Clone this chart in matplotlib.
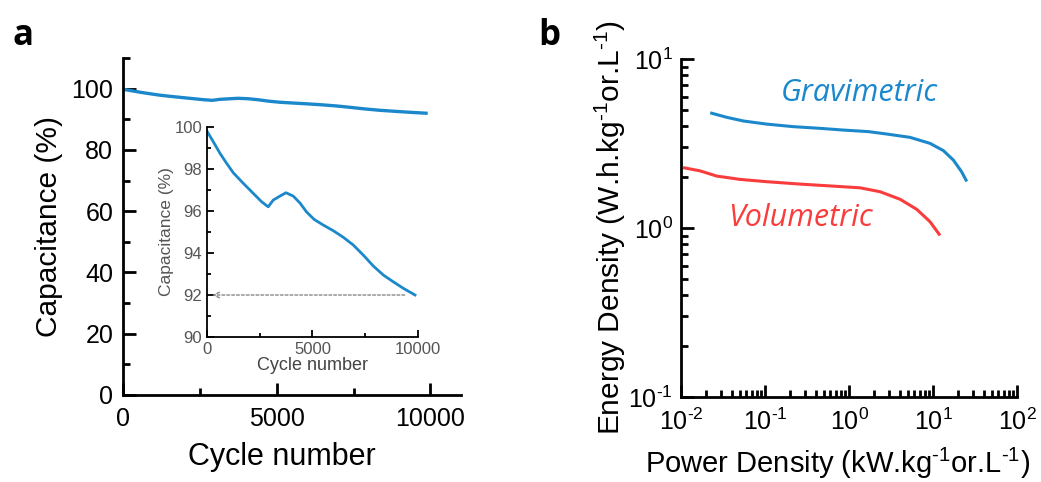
import matplotlib
matplotlib.use("Agg")
import matplotlib.pyplot as plt
from matplotlib.ticker import MultipleLocator, LogLocator, NullFormatter, FixedLocator

plt.rcParams['font.family'] = ['Liberation Sans', 'DejaVu Sans']
plt.rcParams['mathtext.fontset'] = 'custom'
plt.rcParams['mathtext.rm'] = 'Liberation Sans'
plt.rcParams['mathtext.it'] = 'Liberation Sans:italic'
plt.rcParams['mathtext.bf'] = 'Liberation Sans:bold'
plt.rcParams['mathtext.default'] = 'regular'

# ---- data: panel a (capacitance retention) ----
cycles = [15, 300, 616, 933, 1248, 1720, 2195, 2590, 2905, 3140, 3460, 3745, 4090,
          4410, 4725, 5080, 5515, 5990, 6460, 6935, 7410, 7885, 8360, 8830, 9305, 9860]
capacitance = [99.78, 99.3, 98.75, 98.27, 97.82, 97.32, 96.84, 96.44, 96.2, 96.52,
               96.71, 96.87, 96.71, 96.38, 95.95, 95.6, 95.33, 95.06, 94.75, 94.38,
               93.9, 93.38, 92.95, 92.63, 92.32, 92.0]

# ---- data: panel b (Ragone) ----
grav_power = [0.0232, 0.035, 0.0552, 0.105, 0.217, 0.452, 0.855, 1.70, 2.81, 5.32,
              9.2, 13.3, 17.5, 21.9, 24.7]
grav_energy = [4.78, 4.52, 4.30, 4.12, 3.98, 3.89, 3.80, 3.72, 3.60, 3.44,
               3.17, 2.87, 2.52, 2.15, 1.92]
vol_power = [0.011, 0.0168, 0.0266, 0.0504, 0.105, 0.261, 0.65, 1.35, 2.34, 4.05,
             6.4, 9.2, 11.8]
vol_energy = [2.27, 2.18, 2.03, 1.94, 1.88, 1.82, 1.77, 1.73, 1.64, 1.48,
              1.29, 1.09, 0.92]

BLUE = '#1b88cc'
RED = '#fa3c3c'

fig = plt.figure(figsize=(10.41, 4.82), dpi=100)

def style(ax, lw=2.0, major=9, minor=5, labelsize=18):
    for s in ['top', 'right']:
        ax.spines[s].set_visible(False)
    for s in ['left', 'bottom']:
        ax.spines[s].set_linewidth(lw)
    ax.tick_params(which='both', direction='in', width=lw, labelsize=labelsize)
    ax.tick_params(which='major', length=major)
    ax.tick_params(which='minor', length=minor)

# ---- panel a ----
axa = fig.add_axes([0.1182, 0.1805, 0.3247, 0.699])
axa.plot(cycles, capacitance, color=BLUE, lw=2.4)
axa.set_xlim(0, 11000)
axa.set_ylim(0, 110)
axa.xaxis.set_major_locator(FixedLocator([0, 5000, 10000]))
axa.xaxis.set_minor_locator(FixedLocator([2500, 7500]))
axa.yaxis.set_major_locator(FixedLocator([0, 20, 40, 60, 80, 100]))
axa.yaxis.set_minor_locator(FixedLocator([10, 30, 50, 70, 90, 110]))
style(axa)
axa.tick_params(axis='x', pad=9)
axa.tick_params(axis='y', pad=7)
axa.set_xlabel('Cycle number', fontsize=22)
axa.xaxis.set_label_coords(0.47, -0.14)
axa.set_ylabel('Capacitance (%)', fontsize=21.5, labelpad=6)

# inset
axi = fig.add_axes([0.1988, 0.3008, 0.2027, 0.4357])
axi.plot(cycles, capacitance, color=BLUE, lw=2.0)
axi.set_xlim(0, 10000)
axi.set_ylim(90, 100)
axi.xaxis.set_major_locator(FixedLocator([0, 5000, 10000]))
axi.xaxis.set_minor_locator(FixedLocator([2500, 7500]))
axi.yaxis.set_major_locator(MultipleLocator(2))
axi.yaxis.set_minor_locator(MultipleLocator(1))
style(axi, lw=1.3, major=5, minor=3, labelsize=12)
axi.tick_params(labelcolor='#555555', color='black')
axi.set_xlabel('Cycle number', fontsize=13, color='#444444', labelpad=0)
axi.set_ylabel('Capacitance (%)', fontsize=12.5, color='#555555', labelpad=0)
axi.annotate('', xy=(120, 92), xytext=(9500, 92),
             arrowprops=dict(arrowstyle='->', linestyle=(0, (2, 1.5)), color='#888888', lw=1.0))

fig.text(0.012, 0.907, 'a', fontsize=25, fontweight='bold', family='Open Sans')

# ---- panel b ----
axb = fig.add_axes([0.6542, 0.1763, 0.3228, 0.7012])
axb.plot(grav_power, grav_energy, color=BLUE, lw=2.2)
axb.plot(vol_power, vol_energy, color=RED, lw=2.2)
axb.set_xscale('log')
axb.set_yscale('log')
axb.set_xlim(1e-2, 1e2)
axb.set_ylim(1e-1, 1e1)
axb.xaxis.set_minor_locator(LogLocator(base=10, subs=range(2, 10), numticks=20))
axb.yaxis.set_minor_locator(LogLocator(base=10, subs=range(2, 10), numticks=20))
axb.xaxis.set_minor_formatter(NullFormatter())
axb.yaxis.set_minor_formatter(NullFormatter())
axb.set_xticks([1e-2, 1e-1, 1e0, 1e1, 1e2])
axb.set_xticklabels(['$10^{\u2010 2}$', '$10^{\u2010 1}$', '$10^{0}$', '$10^{1}$', '$10^{2}$'])
axb.set_yticks([1e-1, 1e0, 1e1])
axb.set_yticklabels(['$10^{\u2010 1}$', '$10^{0}$', '$10^{1}$'])
style(axb)
axb.tick_params(axis='x', pad=8)
axb.tick_params(axis='y', pad=6)
axb.set_xlabel('Power Density (kW.kg$^{\u20101}$or.L$^{\u20101}$)', fontsize=21)
axb.xaxis.set_label_coords(0.465, -0.145)
axb.set_ylabel('Energy Density (W.h.kg$^{\u20101}$or.L$^{\u20101}$)', fontsize=21.5, labelpad=0)
axb.text(0.53, 0.9, 'Gravimetric', transform=axb.transAxes, color=BLUE,
         fontsize=22, style='italic', family='Open Sans', ha='center', va='center')
axb.text(0.357, 0.53, 'Volumetric', transform=axb.transAxes, color=RED,
         fontsize=22, style='italic', family='Open Sans', ha='center', va='center')

fig.text(0.517, 0.907, 'b', fontsize=25, fontweight='bold', family='Open Sans')

fig.savefig('out.png', dpi=100)
